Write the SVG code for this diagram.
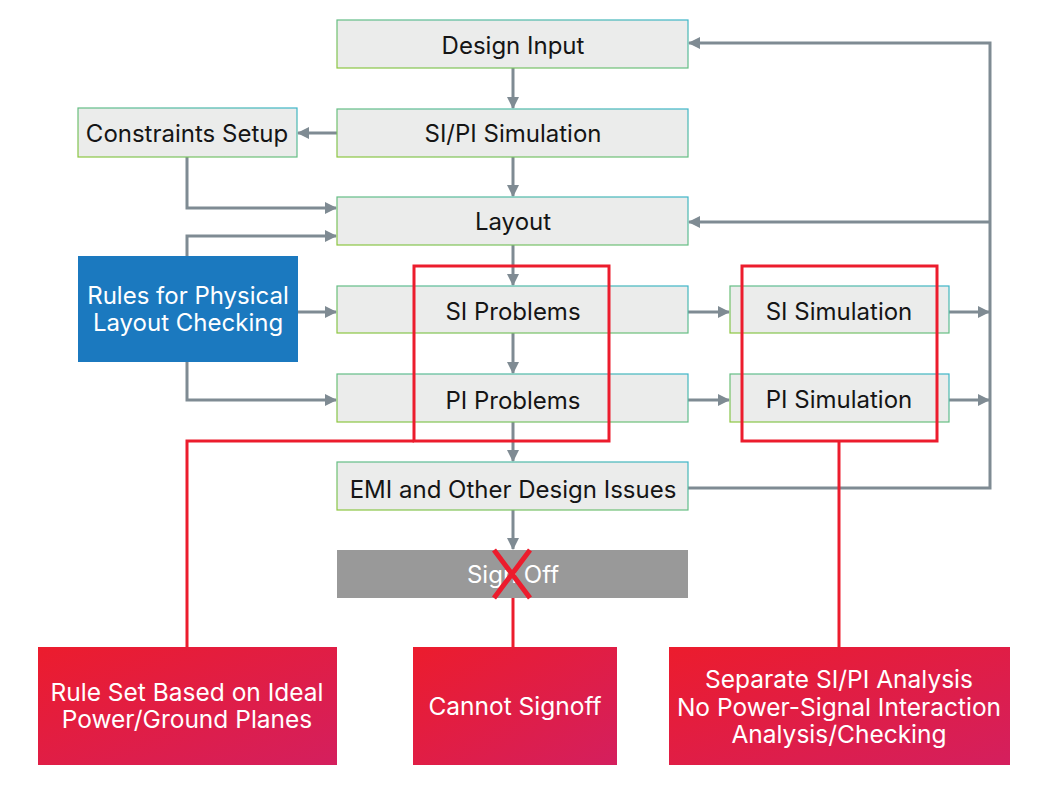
<svg xmlns="http://www.w3.org/2000/svg" width="1058" height="789" viewBox="0 0 1058 789">
<defs>
<linearGradient id="bord" x1="0" y1="1" x2="1" y2="0">
<stop offset="0" stop-color="#8dc63f"/>
<stop offset="1" stop-color="#3db5c8"/>
</linearGradient>
<linearGradient id="redg" x1="0" y1="0" x2="1" y2="1">
<stop offset="0" stop-color="#ec1c2d"/>
<stop offset="1" stop-color="#d41f5e"/>
</linearGradient>
<marker id="ah" viewBox="0 0 12 12" refX="11" refY="6" markerWidth="12" markerHeight="12" markerUnits="userSpaceOnUse" orient="auto">
<path d="M0,0 L12,6 L0,12 Z" fill="#7f8b93"/>
</marker>
<style>
.box{fill:#ebeceb;stroke:url(#bord);stroke-width:1.2}
.t{font-family:Inter,"Liberation Sans",sans-serif;font-size:24px;fill:#151515;text-anchor:middle}
.w{font-family:Inter,"Liberation Sans",sans-serif;font-size:24px;fill:#ffffff;text-anchor:middle}
.wr{font-family:Inter,"Liberation Sans",sans-serif;font-size:24.5px;fill:#ffffff;text-anchor:middle}
.ca{fill:none;stroke:#7f8b93;stroke-width:3;marker-end:url(#ah)}
.r{fill:none;stroke:#ec1c2d;stroke-width:3}
.rb{fill:url(#redg)}
</style>
</defs>
<rect width="1058" height="789" fill="#ffffff"/>
<g id="connectors">
<line class="ca" x1="513" y1="68" x2="513" y2="108"/>
<line class="ca" x1="337" y1="133" x2="298" y2="133"/>
<polyline class="ca" points="187,157 187,208 336,208"/>
<line class="ca" x1="513" y1="157" x2="513" y2="196"/>
<polyline class="ca" points="187,256 187,236 336,236"/>
<line class="ca" x1="298" y1="312" x2="336" y2="312"/>
<polyline class="ca" points="187,362 187,400 336,400"/>
<line class="ca" x1="513" y1="245" x2="513" y2="285"/>
<line class="ca" x1="513" y1="333" x2="513" y2="373"/>
<line class="ca" x1="513" y1="422" x2="513" y2="461"/>
<line class="ca" x1="513" y1="510" x2="513" y2="549"/>
<line class="ca" x1="688" y1="312" x2="729" y2="312"/>
<line class="ca" x1="688" y1="400" x2="729" y2="400"/>
<line class="ca" x1="949" y1="312" x2="989" y2="312"/>
<line class="ca" x1="949" y1="400" x2="989" y2="400"/>
<polyline class="ca" points="688,488 990,488 990,43 689,43"/>
<line class="ca" x1="990" y1="222" x2="689" y2="222"/>
</g>
<g id="n-design-input"><rect class="box" x="337" y="20" width="351" height="48"/><text class="t" x="513" y="54">Design Input</text></g>
<g id="n-sipi-sim"><rect class="box" x="337" y="109" width="351" height="48"/><text class="t" x="513" y="142">SI/PI Simulation</text></g>
<g id="n-constraints"><rect class="box" x="78" y="108" width="219" height="49"/><text class="t" x="187" y="142">Constraints Setup</text></g>
<g id="n-layout"><rect class="box" x="337" y="197" width="351" height="48"/><text class="t" x="513" y="230">Layout</text></g>
<g id="n-rules"><rect x="78" y="256" width="220" height="106" fill="#1b79bf"/><text class="w" x="188" y="304">Rules for Physical</text><text class="w" x="188" y="331">Layout Checking</text></g>
<g id="n-si-problems"><rect class="box" x="337" y="286" width="351" height="47"/><text class="t" x="513" y="320">SI Problems</text></g>
<g id="n-pi-problems"><rect class="box" x="337" y="374" width="351" height="48"/><text class="t" x="513" y="409">PI Problems</text></g>
<g id="n-si-sim"><rect class="box" x="730" y="286" width="219" height="47"/><text class="t" x="839" y="320">SI Simulation</text></g>
<g id="n-pi-sim"><rect class="box" x="730" y="374" width="219" height="48"/><text class="t" x="839" y="408">PI Simulation</text></g>
<g id="n-emi"><rect class="box" x="337" y="462" width="351" height="48"/><text class="t" x="513" y="498">EMI and Other Design Issues</text></g>
<g id="n-signoff"><rect x="337" y="550" width="351" height="48" fill="#999999"/><text class="w" x="513" y="583">Sign Off</text>
<line x1="494" y1="550" x2="530" y2="598" stroke="#ec1c2d" stroke-width="5"/><line x1="530" y1="550" x2="494" y2="598" stroke="#ec1c2d" stroke-width="5"/></g>
<g id="red-marks">
<rect class="r" x="414" y="266" width="195" height="175"/>
<rect class="r" x="742" y="266" width="195" height="175"/>
<polyline class="r" points="414,441 187,441 187,647"/>
<line class="r" x1="839" y1="441" x2="839" y2="647"/>
<line class="r" x1="513" y1="598" x2="513" y2="647"/>
</g>
<g id="n-ruleset"><rect class="rb" x="38" y="647" width="299" height="118"/><text class="wr" x="187" y="701">Rule Set Based on Ideal</text><text class="wr" x="187" y="728">Power/Ground Planes</text></g>
<g id="n-cannot"><rect class="rb" x="413" y="647" width="204" height="118"/><text class="wr" x="515" y="715">Cannot Signoff</text></g>
<g id="n-separate"><rect class="rb" x="669" y="647" width="341" height="118"/><text class="wr" x="839" y="688">Separate SI/PI Analysis</text><text class="wr" x="839" y="716">No Power-Signal Interaction</text><text class="wr" x="839" y="743">Analysis/Checking</text></g>
</svg>
